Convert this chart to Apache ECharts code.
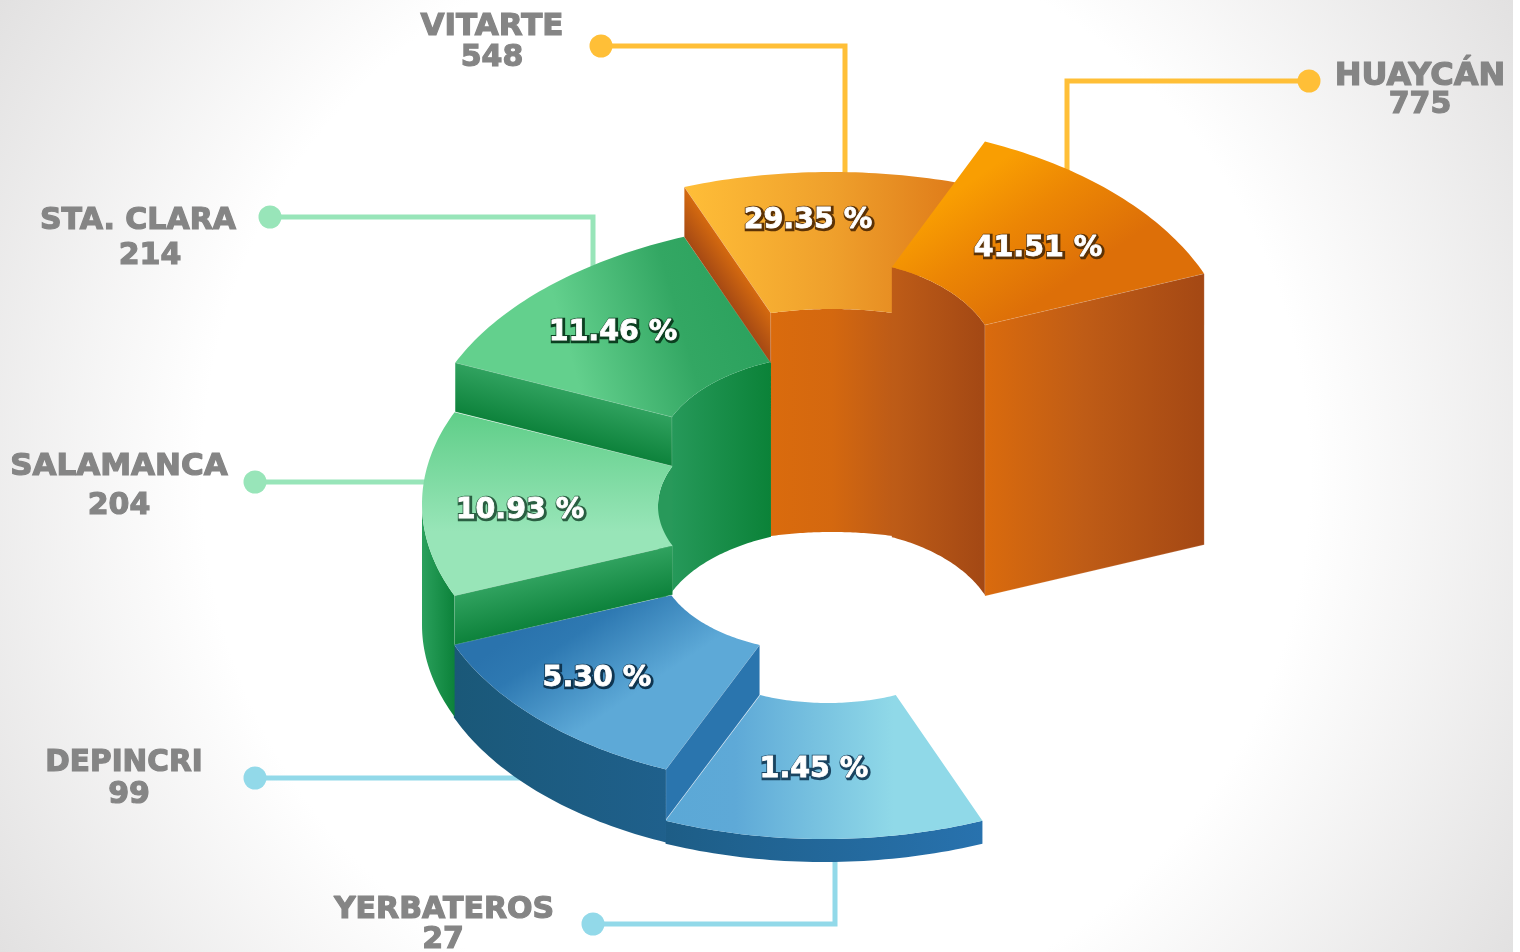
<!DOCTYPE html>
<html>
<head>
<meta charset="utf-8">
<title>Zonas</title>
<style>
  html, body { margin: 0; padding: 0; background: #fff; }
  #main { width: 1513px; height: 952px; }
</style>
<script src="https://cdn.jsdelivr.net/npm/echarts@6/dist/echarts.min.js"></script>
</head>
<body>
<div id="main"></div>
<script>
const zoneNames = ['HUAYCÁN', 'VITARTE', 'STA. CLARA', 'SALAMANCA', 'DEPINCRI', 'YERBATEROS'];
const zoneCounts = [775, 548, 214, 204, 99, 27];
const zoneShares = [41.51, 29.35, 11.46, 10.93, 5.30, 1.45];

// each zone is a 45 degree step of a spiral stair, seen from above
const stepAngle = 45;
const firstAngle = 22.5;

// ellipses of each step: [cx, cy, rx, ry]
const outerEllipses = [[830, 367, 405, 244], [832, 369, 386, 197], [846, 452, 423, 233], [850, 504, 428, 240], [816, 556, 392, 231], [824, 599, 414, 240]];
const innerEllipses = [[826, 366, 172, 107], [832, 363, 160, 54], [841, 456, 183, 102], [849, 506, 191, 104], [822, 560, 163, 92], [828, 599, 177, 104]];
const stepHeights = [270, 223, 175, 121, 73, 23];
// visible radial face: which angle it sits on and how far it drops
const faceAngles = [22.5, 112.5, 157.5, 202.5, 247.5, null];
const faceDrops = [271, 50, 49, 49, 50, 0];

function grad(x, y, x2, y2, stops) {
  return new echarts.graphic.LinearGradient(x, y, x2, y2, stops.map((c, i) =>
    Array.isArray(c) ? { offset: c[0], color: c[1] } : { offset: i / (stops.length - 1), color: c }));
}

const topFills = [
  grad(0.35, 0.1, 0.6, 0.72, ['#f99e02', [0.45, '#ec8604'], '#dd6f08']),
  grad(0, 0, 1, 0, ['#ffbe38', [0.5, '#efa02c'], '#dc7516']),
  grad(1, 0.25, 0, 0.75, ['#29a05c', [0.3, '#33a763'], [0.65, '#63d08d'], '#63d08d']),
  grad(0, 0, 0, 1, ['#5fce88', [0.65, '#98e5b8'], '#98e5b8']),
  grad(0.35, 0.05, 0.6, 0.7, ['#2a73ad', [0.25, '#2e79b2'], [0.85, '#5da9d7'], '#5da9d7']),
  grad(0, 0, 1, 0, ['#5ba8d6', [0.22, '#5ea9d7'], [0.72, '#90d9e8'], '#90d9e8'])
];
const innerFills = [
  grad(0, 0, 1, 0, ['#be5c17', '#a34814']),
  grad(0, 0, 1, 0, ['#da6b0d', [0.5, '#d4680f'], '#bd5b17']),
  grad(0, 0, 1, 0, ['#26995a', '#0b8238']),
  grad(0, 0, 1, 0, ['#28995a', '#28995a'])
];
const outerFills = [
  null, null, null,
  grad(0, 0, 1, 0, ['#2aa05c', '#0c823a']),
  grad(0, 0, 1, 0, ['#1a5878', '#1f608c']),
  grad(0, 0, 1, 0, ['#1d5d86', '#2872ae'])
];
// stepped faces shade across the step, from the top edge to the bottom edge
const faceShades = [null, ['#d56a0f', '#a54914'], ['#30a25f', '#0d823b'], ['#30a25f', '#0d823b'], null, null];
const faceFills = [
  grad(0, 0, 1, 0, ['#da6b0d', [0.45, '#bf5c16'], '#a44814']),
  null, null, null,
  '#2a75ae',
  null
];

// leader lines and labels
const leaderColors = ['#ffbf37', '#ffbf37', '#98e5b9', '#98e5b9', '#92d9e9', '#92d9e9'];
const leaderPaths = [
  [[1309, 81], [1067, 81], [1067, 175]],
  [[601, 46], [845, 46], [845, 180]],
  [[270, 217], [593, 217], [593, 270]],
  [[255, 482], [430, 482]],
  [[255, 778], [525, 778]],
  [[593, 924], [835, 924], [835, 855]]
];
const dotRadius = 11.5;
const namePositions = [[1420, 77], [492, 27], [138, 221], [119, 467], [124, 763], [444, 910]];
const nameSizes = [32, 31, 30, 31, 29.5, 30];
const countPositions = [[1420, 105], [492, 58], [150, 256], [119, 506], [129, 795], [443, 940]];
const sharePositions = [[1038, 249], [808, 221], [613, 333], [520, 511], [597, 679], [814, 770]];
const shareShadow = ['#5b3206', '#5b3206', '#0b3f20', '#2a5f42', '#0f3550', '#1a4460'];

function ell(a) { return { cx: a[0], cy: a[1], rx: a[2], ry: a[3] }; }
function pt(e, deg, drop) {
  const t = deg * Math.PI / 180;
  return [e.cx + e.rx * Math.cos(t), e.cy - e.ry * Math.sin(t) + (drop || 0)];
}
function arc(e, a, b, drop) {
  const n = Math.max(2, Math.ceil(Math.abs(b - a)));
  const out = [];
  for (let i = 0; i <= n; i++) out.push(pt(e, a + (b - a) * i / n, drop));
  return out;
}
function wall(e, a, b, h) {
  return arc(e, a, b, 0).concat(arc(e, b, a, h));
}
// gradient running square to the edge pi-po, as far as the drop reaches
function shadeAcross(pi, po, drop, colors) {
  const ex = po[0] - pi[0], ey = po[1] - pi[1];
  const k = drop * ey / (ex * ex + ey * ey);
  return new echarts.graphic.LinearGradient(pi[0], pi[1], pi[0] - ex * k, pi[1] + drop - ey * k, [
    { offset: 0, color: colors[0] },
    { offset: 1, color: colors[1] }
  ], true);
}
const edge = { stroke: 'rgba(255,255,255,0.22)', lineWidth: 0.6 };

function labelText(text, p, font, fill, extra, z2) {
  return {
    type: 'text', z2: z2 || 200, silent: true,
    style: Object.assign({
      text: text, x: p[0], y: p[1], font: font, fill: fill,
      align: 'center', verticalAlign: 'middle'
    }, extra || {})
  };
}

function renderZone(params) {
  const i = params.dataIndex;
  const outer = ell(outerEllipses[i]);
  const inner = ell(innerEllipses[i]);
  const a1 = firstAngle + stepAngle * i;
  const a2 = a1 + stepAngle;
  const h = stepHeights[i];
  const base = 20 + (5 - i) * 10; // lower steps paint first
  const kids = [];

  // leader under everything
  const path = leaderPaths[i];
  kids.push({ type: 'polyline', z2: 0, shape: { points: path }, style: { stroke: leaderColors[i], lineWidth: 5, fill: null } });
  kids.push({ type: 'circle', z2: 0, shape: { cx: path[0][0], cy: path[0][1], r: dotRadius }, style: { fill: leaderColors[i] } });

  // inner wall, only the back half of the hole shows
  // the tallest step stands in front of the next one, the others stay behind the tops
  if (a1 < 180) {
    kids.push({ type: 'polygon', z2: i === 0 ? base : 5, shape: { points: wall(inner, a1, Math.min(a2, 180), h) }, style: { fill: innerFills[i] } });
  }
  // outer wall, only the front half shows
  if (a2 > 180) {
    kids.push({ type: 'polygon', z2: base, shape: { points: wall(outer, Math.max(a1, 180), a2, h) }, style: { fill: outerFills[i] } });
  }
  // top surface
  kids.push({
    type: 'polygon', z2: base + 1,
    shape: { points: arc(outer, a1, a2).concat(arc(inner, a2, a1)) },
    style: { fill: topFills[i] }
  });
  // radial face down to the next step
  if (faceAngles[i] !== null) {
    const f = faceAngles[i];
    const pi = pt(inner, f), po = pt(outer, f);
    const drop = faceDrops[i];
    kids.push({
      type: 'polygon', z2: base + 2,
      shape: { points: [pi, po, [po[0], po[1] + drop], [pi[0], pi[1] + drop]] },
      style: Object.assign({ fill: faceShades[i] ? shadeAcross(pi, po, drop, faceShades[i]) : faceFills[i] }, edge)
    });
  }

  const nameFont = 'bold ' + nameSizes[i] + "px 'DejaVu Sans'";
  kids.push(labelText(zoneNames[i], namePositions[i], nameFont, '#858585', { stroke: '#858585', lineWidth: 1.2 }));
  kids.push(labelText(String(zoneCounts[i]), countPositions[i], "bold 30px 'DejaVu Sans'", '#858585', { stroke: '#858585', lineWidth: 1.2 }));

  // share label: dark halo under a slightly fattened white text
  const shareText = zoneShares[i].toFixed(2) + ' %';
  const shareFont = "bold 28.5px 'DejaVu Sans'";
  kids.push(labelText(shareText, [sharePositions[i][0] + 1, sharePositions[i][1] + 1], shareFont, shareShadow[i], { stroke: shareShadow[i], lineWidth: 4.5 }, 199));
  kids.push(labelText(shareText, sharePositions[i], shareFont, '#ffffff', { stroke: '#ffffff', lineWidth: 0.8 }));

  return { type: 'group', children: kids };
}

const chart = echarts.init(document.getElementById('main'), null, { renderer: 'canvas' });
chart.setOption({
  animation: false,
  backgroundColor: new echarts.graphic.RadialGradient(756, 476, 893, [
    { offset: 0, color: '#ffffff' },
    { offset: 0.62, color: '#ffffff' },
    { offset: 1, color: '#e2e1e1' }
  ], true),
  tooltip: { show: false },
  series: [{
    type: 'custom',
    coordinateSystem: 'none',
    silent: true,
    data: zoneCounts.map((v, i) => ({ name: zoneNames[i], value: v })),
    renderItem: renderZone
  }]
});
</script>
</body>
</html>
